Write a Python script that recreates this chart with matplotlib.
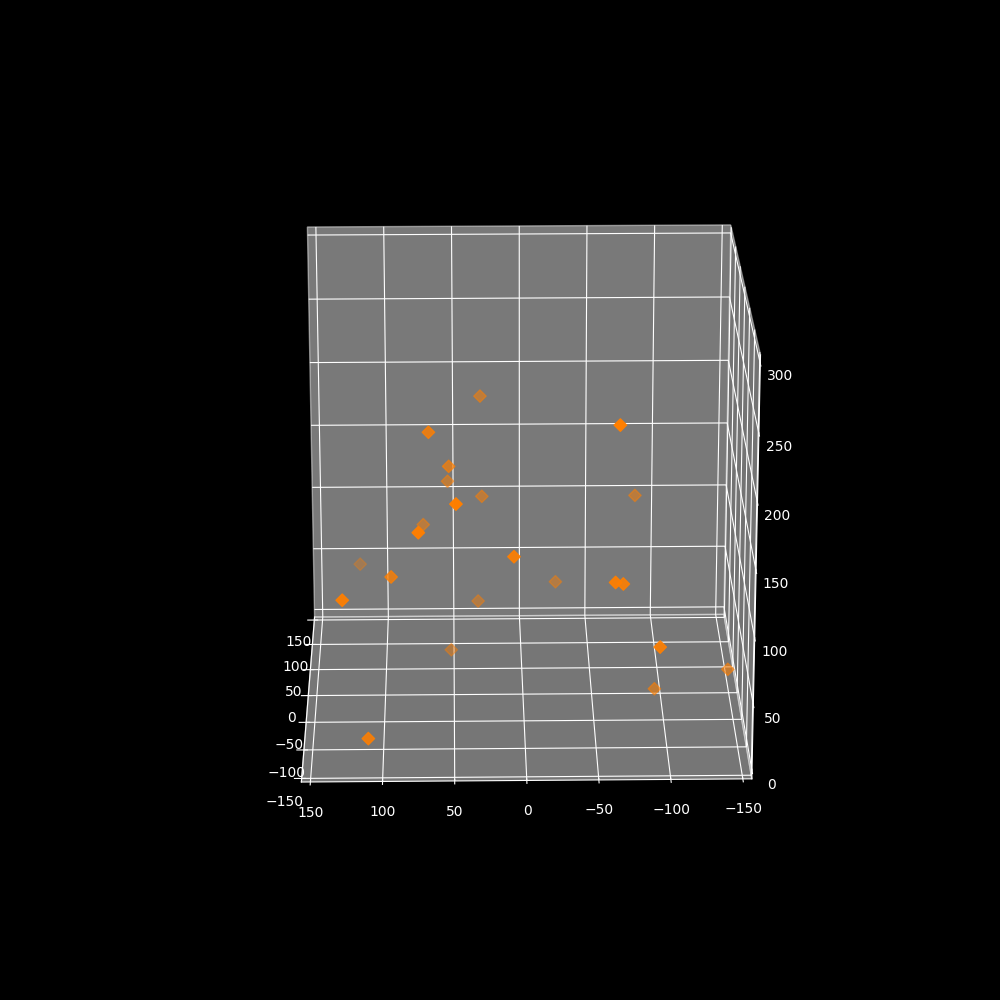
import matplotlib
matplotlib.use('Agg')
import matplotlib.pyplot as plt

# Points
x = [75, -40, -105, 0, 60, -120, 60, 60, 60, -120, -105, 120, -60, -120, 60, 60, -120, -105, 50, -127, -16, -16, -132]
y = [30, 67, -65, 53, 54, 48, 29, -83, 72, 74, 8, 120, 94, 127, -25, 32, -62, -68, 52, -93, -148, -95, 110]
z = [200, 212, 239, 172, 139, 187, 127, 127, 105, 166, 142, 51, 110, 116, 59, 44, 128, 121, 9, 82, 19, 4, 16]

plt.style.use('dark_background')
fig = plt.figure(figsize=(10, 10), dpi=100)
ax = fig.add_subplot(projection='3d')

ax.scatter(x, y, z, marker='D', c='#ff7f00', s=40)

ax.set_xlim(-150, 150, view_margin=1/48)
ax.set_ylim(-150, 150, view_margin=1/48)
ax.set_zlim(0, 300, view_margin=1/48)
ax.set_box_aspect((1, 1.01, 1), zoom=0.947)
ax.view_init(elev=20, azim=179)

fig.savefig('out.png', dpi=100)
